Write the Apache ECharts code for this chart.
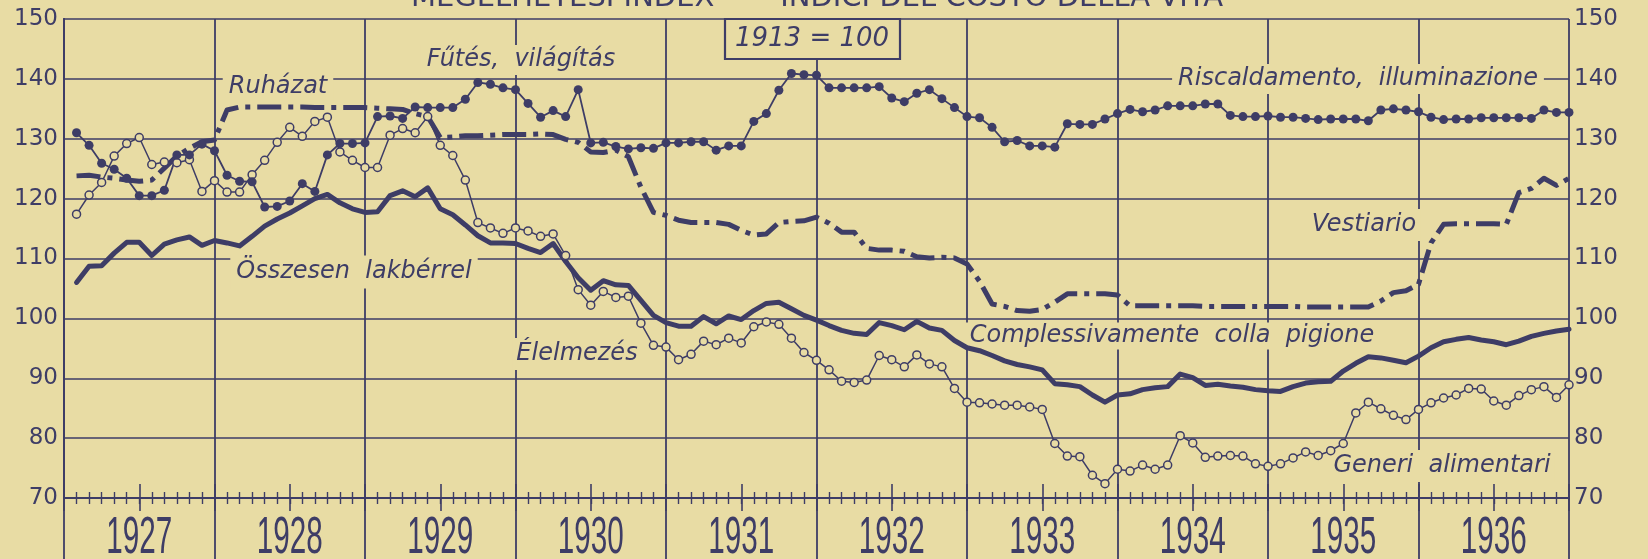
<!DOCTYPE html>
<html>
<head>
<meta charset="utf-8">
<script src="https://cdn.jsdelivr.net/npm/echarts@6/dist/echarts.min.js"></script>
<style>
  html, body { margin: 0; padding: 0; background: #e8dca4; }
  #chart { width: 1648px; height: 559px; }
</style>
</head>
<body>
<div id="chart"></div>
<script>
// Cost-of-living indices, 1913 = 100, monthly values Jan 1927 – Dec 1936
const YEARS = ['1927', '1928', '1929', '1930', '1931', '1932', '1933', '1934', '1935', '1936'];
const Y_TICKS = [70, 80, 90, 100, 110, 120, 130, 140, 150];

// Fűtés, világítás / Riscaldamento, illuminazione
const HEATING = [
  131.0, 128.9, 125.9, 124.9, 123.4, 120.5, 120.5, 121.4, 127.3, 127.3, 129.1, 128.0,
  123.9, 122.9, 122.8, 118.6, 118.7, 119.6, 122.5, 121.2, 127.3, 129.2, 129.2, 129.3,
  133.7, 133.8, 133.4, 135.3, 135.2, 135.2, 135.2, 136.6, 139.4, 139.1, 138.5, 138.2,
  135.9, 133.6, 134.7, 133.7, 138.2, 129.3, 129.4, 128.7, 128.3, 128.5, 128.4, 129.3,
  129.3, 129.5, 129.5, 128.1, 128.8, 128.8, 132.9, 134.2, 138.1, 140.9, 140.7, 140.6,
  138.5, 138.5, 138.5, 138.5, 138.7, 136.8, 136.2, 137.6, 138.2, 136.7, 135.2, 133.7,
  133.5, 131.9, 129.5, 129.7, 128.8, 128.8, 128.6, 132.5, 132.4, 132.4, 133.3, 134.2,
  134.9, 134.5, 134.8, 135.5, 135.5, 135.5, 135.8, 135.8, 133.9, 133.7, 133.7, 133.8,
  133.6, 133.6, 133.4, 133.2, 133.3, 133.3, 133.3, 133.0, 134.8, 135.0, 134.8, 134.5,
  133.6, 133.2, 133.3, 133.3, 133.5, 133.5, 133.5, 133.5, 133.4, 134.8, 134.4, 134.4
];

// Ruházat / Vestiario
const CLOTHING = [
  123.8, 123.9, 123.6, 123.4, 123.1, 122.9, 123.1, 125.1, 127.1, 128.4, 129.5, 129.8,
  134.8, 135.3, 135.3, 135.3, 135.3, 135.3, 135.3, 135.2, 135.2, 135.2, 135.2, 135.2,
  135.1, 135.0, 134.9, 134.2, 133.7, 130.2, 130.3, 130.5, 130.5, 130.6, 130.7, 130.7,
  130.7, 130.8, 130.7, 129.9, 129.4, 127.8, 127.7, 128.1, 127.0, 121.9, 117.7, 117.2,
  116.4, 116.0, 116.0, 116.0, 115.7, 114.7, 113.9, 114.1, 116.0, 116.2, 116.3, 116.9,
  115.9, 114.4, 114.4, 111.7, 111.4, 111.4, 111.2, 110.3, 110.1, 110.2, 110.1, 109.1,
  106.2, 102.4, 102.0, 101.3, 101.2, 101.5, 102.7, 104.1, 104.1, 104.1, 104.1, 103.9,
  102.1, 102.1, 102.1, 102.1, 102.1, 102.1, 102.0, 102.0, 102.0, 102.0, 102.0, 102.0,
  102.0, 102.0, 101.9, 101.9, 101.9, 101.9, 101.9, 101.9, 102.9, 104.3, 104.6, 105.7,
  112.6, 115.7, 115.8, 115.8, 115.8, 115.8, 115.7, 121.0, 121.7, 123.4, 122.2, 123.4
];

// Élelmezés / Generi alimentari
const FOOD = [
  117.4, 120.6, 122.7, 127.1, 129.2, 130.2, 125.7, 126.1, 126.0, 126.5, 121.2, 123.0,
  121.1, 121.1, 124.0, 126.4, 129.4, 131.9, 130.4, 132.9, 133.6, 127.8, 126.4, 125.2,
  125.2, 130.6, 131.7, 131.0, 133.7, 128.9, 127.2, 123.1, 116.0, 115.1, 114.2, 115.1,
  114.6, 113.7, 114.1, 110.5, 104.8, 102.2, 104.5, 103.5, 103.7, 99.2, 95.5, 95.2,
  93.1, 94.0, 96.2, 95.6, 96.7, 95.9, 98.6, 99.4, 99.0, 96.7, 94.3, 93.0,
  91.4, 89.5, 89.3, 89.7, 93.8, 93.1, 91.9, 93.9, 92.4, 91.9, 88.3, 86.0,
  85.9, 85.7, 85.5, 85.5, 85.2, 84.8, 79.1, 77.0, 76.9, 73.8, 72.4, 74.8,
  74.5, 75.5, 74.8, 75.5, 80.4, 79.2, 76.8, 77.0, 77.1, 77.0, 75.7, 75.3,
  75.7, 76.7, 77.7, 77.1, 77.9, 79.1, 84.2, 86.0, 84.9, 83.8, 83.1, 84.8,
  85.9, 86.7, 87.2, 88.3, 88.2, 86.2, 85.5, 87.1, 88.1, 88.6, 86.8, 88.9
];

// Összesen lakbérrel / Complessivamente colla pigione
const TOTAL = [
  106.0, 108.7, 108.8, 110.9, 112.7, 112.7, 110.5, 112.4, 113.1, 113.6, 112.2, 113.0,
  112.6, 112.1, 113.7, 115.4, 116.6, 117.6, 118.8, 120.0, 120.7, 119.3, 118.3, 117.7,
  117.8, 120.5, 121.3, 120.3, 121.8, 118.3, 117.3, 115.6, 113.8, 112.6, 112.6, 112.5,
  111.7, 111.0, 112.5, 109.5, 106.8, 104.7, 106.3, 105.6, 105.5, 103.0, 100.5, 99.3,
  98.7, 98.7, 100.3, 99.1, 100.4, 99.8, 101.3, 102.5, 102.7, 101.6, 100.5, 99.7,
  98.8, 98.0, 97.5, 97.3, 99.3, 98.8, 98.1, 99.5, 98.4, 98.0, 96.3, 95.1,
  94.6, 93.8, 92.9, 92.3, 91.9, 91.4, 89.1, 88.9, 88.6, 87.2, 86.0, 87.2,
  87.4, 88.1, 88.4, 88.6, 90.7, 90.1, 88.8, 89.0, 88.7, 88.5, 88.1, 87.9,
  87.8, 88.6, 89.2, 89.4, 89.5, 91.2, 92.5, 93.6, 93.4, 93.0, 92.6, 93.7,
  95.1, 96.1, 96.5, 96.8, 96.4, 96.1, 95.6, 96.2, 97.0, 97.5, 97.9, 98.2
];

const PAPER = '#e8dca4';
const INK = '#3e3d66';
const ITALIC = 'italic 24px "DejaVu Sans", sans-serif';
const TICK_FONT = { color: INK, fontSize: 23, fontFamily: '"DejaVu Sans", sans-serif' };

// each monthly value sits at the end of its month on a 0..120 month scale
const toPoints = arr => arr.map((v, i) => [i + 1, v]);

const chart = echarts.init(document.getElementById('chart'), null, { renderer: 'canvas' });

const baseAxisX = {
  type: 'value', min: 0, max: 120, position: 'bottom',
  axisLabel: { show: false }, splitLine: { show: false }, axisLine: { show: false }
};

chart.setOption({
  animation: false,
  backgroundColor: PAPER,
  grid: { left: 64, right: 79, top: 19, bottom: 61 },
  xAxis: [
    Object.assign({}, baseAxisX, {
      interval: 12,
      axisLine: { show: true, lineStyle: { color: INK, width: 2 } },
      splitLine: { show: true, lineStyle: { color: INK, width: 1.8 } },
      axisTick: { show: true, length: 62, lineStyle: { color: INK, width: 1.8 } },
      minorTick: { show: true, splitNumber: 12, length: 6, lineStyle: { color: INK, width: 1.4 } }
    }),
    Object.assign({}, baseAxisX, {
      interval: 6,
      axisTick: { show: true, inside: true, length: 14, lineStyle: { color: INK, width: 1.6 } },
      minorTick: { show: true, splitNumber: 6, length: 6, lineStyle: { color: INK, width: 1.4 } }
    }),
    Object.assign({}, baseAxisX, {
      interval: 6,
      axisTick: { show: true, length: 13, lineStyle: { color: INK, width: 1.6 } }
    })
  ],
  yAxis: [
    {
      type: 'value', min: Y_TICKS[0], max: Y_TICKS[Y_TICKS.length - 1], interval: 10, position: 'left',
      axisLine: { show: true, lineStyle: { color: INK, width: 2 } },
      axisTick: { show: false },
      splitLine: { show: true, lineStyle: { color: INK, width: 1.6 } },
      axisLabel: Object.assign({ margin: 6 }, TICK_FONT)
    },
    {
      type: 'value', min: Y_TICKS[0], max: Y_TICKS[Y_TICKS.length - 1], interval: 10, position: 'right',
      axisLine: { show: true, lineStyle: { color: INK, width: 2 } },
      axisTick: { show: false },
      splitLine: { show: false },
      axisLabel: Object.assign({ margin: 5 }, TICK_FONT)
    }
  ],
  series: [
    {
      name: 'Összesen lakbérrel', type: 'line', data: toPoints(TOTAL), z: 3,
      symbol: 'none', lineStyle: { color: INK, width: 5, join: 'round', cap: 'round' }
    },
    {
      name: 'Ruházat', type: 'line', data: toPoints(CLOTHING), z: 3,
      symbol: 'none', lineStyle: { color: INK, width: 5, type: [24, 7, 5, 7], cap: 'butt', join: 'round' }
    },
    {
      name: 'Élelmezés', type: 'line', data: toPoints(FOOD), z: 4,
      symbol: 'circle', symbolSize: 8,
      lineStyle: { color: INK, width: 1.5 },
      itemStyle: { color: PAPER, borderColor: INK, borderWidth: 1.5 }
    },
    {
      name: 'Fűtés, világítás', type: 'line', data: toPoints(HEATING), z: 4,
      symbol: 'circle', symbolSize: 9,
      lineStyle: { color: INK, width: 1.8 },
      itemStyle: { color: INK, borderWidth: 0 }
    }
  ]
});

// condensed year labels centred in each year column
const measure = document.createElement('canvas').getContext('2d');
const YEAR_FONT = '52px "Liberation Sans Narrow", "Liberation Sans", sans-serif';
measure.font = YEAR_FONT;
const yearScale = Math.min(1, 66 / measure.measureText('1927').width);

const yearLabels = YEARS.map((y, k) => ({
  type: 'text', z: 5,
  x: chart.convertToPixel({ xAxisIndex: 0 }, 12 * k + 6),
  y: 539,
  scaleX: yearScale,
  style: { text: y, font: YEAR_FONT, fill: INK, align: 'center', verticalAlign: 'middle', textAlign: 'center', textVerticalAlign: 'middle' }
}));

const note = (text, x, y, pad) => ({
  type: 'text', z: 1, x: x, y: y,
  style: {
    text: text, font: ITALIC, fill: INK,
    align: 'center', verticalAlign: 'middle', textAlign: 'center', textVerticalAlign: 'middle',
    backgroundColor: PAPER, padding: pad || [2, 4]
  }
});

chart.setOption({
  graphic: [
    {
      type: 'text', z: 5, x: 817, y: -2,
      style: {
        text: 'MEGÉLHETÉSI INDEX  —  INDICI DEL COSTO DELLA VITA',
        font: '29px "DejaVu Sans", sans-serif', fill: INK,
        align: 'center', verticalAlign: 'middle', textAlign: 'center', textVerticalAlign: 'middle'
      }
    },
    {
      type: 'rect', z: 1,
      shape: { x: 725, y: 19, width: 175, height: 40 },
      style: { fill: PAPER, stroke: INK, lineWidth: 2.2 }
    },
    {
      type: 'text', z: 2, x: 812, y: 39,
      style: {
        text: '1913 = 100', font: 'italic 26px "DejaVu Sans", sans-serif', fill: INK,
        align: 'center', verticalAlign: 'middle', textAlign: 'center', textVerticalAlign: 'middle'
      }
    },
    note('Ruházat', 278, 87, [3, 6]),
    note('Fűtés,  világítás', 521, 60, [3, 6]),
    note('Összesen  lakbérrel', 354, 272, [6, 6, 3, 6]),
    note('Élelmezés', 577, 354, [4, 4]),
    note('Complessivamente  colla  pigione', 1172, 336, [0, 4, 3, 4]),
    note('Riscaldamento,  illuminazione', 1358, 79, [3, 6]),
    note('Vestiario', 1364, 225, [4, 4]),
    note('Generi  alimentari', 1442, 466, [4, 4])
  ].concat(yearLabels)
});
</script>
</body>
</html>
